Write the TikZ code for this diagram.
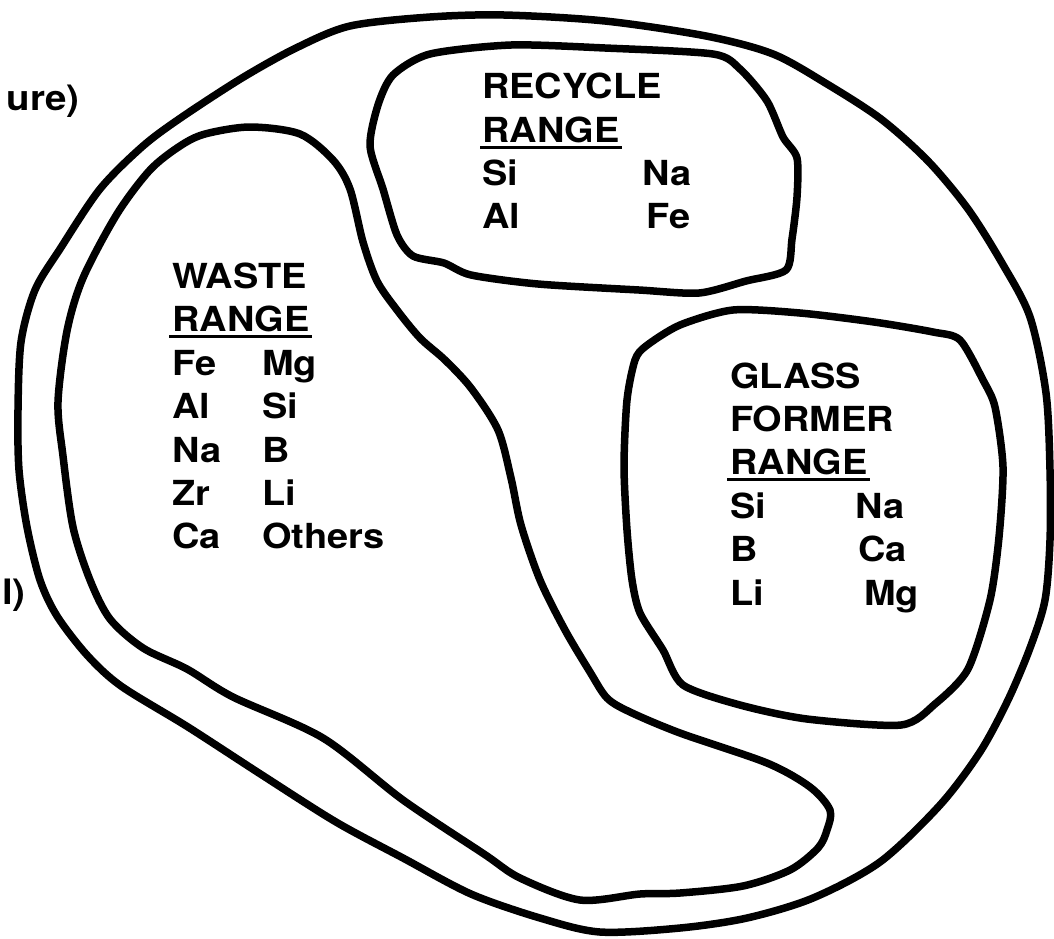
\documentclass[tikz,border=0pt]{standalone}
\usepackage{fontspec}
\newfontfamily\lblfont{TeX Gyre Heros}[FakeStretch=1.1]
\begin{document}
\begin{tikzpicture}[x=1pt,y=-1pt,
  blob/.style={line width=7.5pt, line join=round, draw=black},
  lbl/.style={anchor=base west, inner sep=0pt, font=\lblfont\bfseries\fontsize{34.5}{40}\selectfont},
  lblr/.style={anchor=base east, inner sep=0pt, font=\lblfont\bfseries\fontsize{35}{40}\selectfont},
  uline/.style={line width=3pt}]
\useasboundingbox (0,0) rectangle (1054,938);
% outer region
\draw[blob] plot[smooth cycle, tension=0.5] coordinates {
 (296,48) (350,26) (430,17) (504,15) (605,21) (706,36) (773,54) (827,84)
 (881,119) (928,161) (968,209) (1002,263) (1030,317) (1046,393) (1050,470)
 (1050,540) (1045,600) (1030,648) (1008,700) (980,752) (940,805) (880,862)
 (813,898) (747,918) (680,928) (600,932) (540,918) (471,894) (403,858)
 (336,822) (262,775) (188,727) (121,686) (87,655) (57,616) (40,580)
 (27,527) (19,470) (18,410) (21,342) (35,290) (60,249) (100,189) (143,146) (182,117) (242,78)};
% waste range
\draw[blob] plot[smooth cycle, tension=0.5] coordinates {
 (205,134) (250,127) (300,134) (333,160) (350,189) (363,242) (377,281)
 (397,310) (420,338) (445,360) (471,388) (498,430) (511,478)
 (521,525) (540,580) (565,630) (590,672) (607,698) (630,712) (680,733)
 (767,763) (810,787) (830,810) (827,830) (818,848) (790,870) (743,886)
 (680,893) (640,894) (580,900) (520,878) (484,854) (403,800) (323,738)
 (233,697) (187,669) (143,648) (110,619) (90,580) (73,527) (63,456)
 (58,402) (67,331) (83,278) (117,214) (150,170) (180,146)};
% recycle range
\draw[blob] plot[smooth cycle, tension=0.45] coordinates {
 (393,75) (430,54) (511,45) (605,48) (713,54) (740,69) (767,101) (783,137)
 (797,158) (797,197) (792,239) (786,270) (746,281) (699,293) (639,290)
 (538,284) (471,275) (444,263) (413,256) (397,235) (383,189) (370,146) (378,105)};
% glass former range
\draw[blob] plot[smooth cycle, tension=0.45] coordinates {
 (646,346) (680,325) (733,310) (800,313) (874,322) (933,332) (960,340)
 (983,380) (995,407) (1003,467) (999,537) (990,600) (968,669) (935,704)
 (901,725) (807,719) (740,705) (683,685) (663,650) (640,613) (632,580)
 (627,530) (624,466) (627,400) (635,360)};
% labels at the left edge
\node[lblr] (e1) at (80,110) {ure)};
\node[lblr] (e2) at (26,604) {l)};
% waste text
\node[lbl] (w1) at (172,288) {WASTE};
\node[lbl] (w2) at (172,331) {RANGE};
\draw[uline] ([shift={(-3,5)}]w2.base west) -- ([shift={(2,5)}]w2.base east);
\node[lbl] (w3a) at (172,375) {Fe};  \node[lbl] (w3b) at (262,375) {Mg};
\node[lbl] (w4a) at (172,418) {Al};  \node[lbl] (w4b) at (262,418) {Si};
\node[lbl] (w5a) at (172,462) {Na};  \node[lbl] (w5b) at (262,462) {B};
\node[lbl] (w6a) at (172,505) {Zr};  \node[lbl] (w6b) at (262,505) {Li};
\node[lbl] (w7a) at (172,548) {Ca};  \node[lbl] (w7b) at (262,548) {Others};
% recycle text
\node[lbl] (r1) at (482,98) {RECYCLE};
\node[lbl] (r2) at (482,142) {RANGE};
\draw[uline] ([shift={(-2,5)}]r2.base west) -- ([shift={(2,5)}]r2.base east);
\node[lbl] (r3a) at (482,185) {Si};  \node[lbl] (r3b) at (642,185) {Na};
\node[lbl] (r4a) at (482,228) {Al};  \node[lbl] (r4b) at (646,228) {Fe};
% glass text
\node[lbl] (g1) at (730,388) {GLASS};
\node[lbl] (g2) at (730,431) {FORMER};
\node[lbl] (g3) at (730,474) {RANGE};
\draw[uline] ([shift={(-3,5)}]g3.base west) -- ([shift={(2,5)}]g3.base east);
\node[lbl] (g4a) at (730,518) {Si};  \node[lbl] (g4b) at (855,518) {Na};
\node[lbl] (g5a) at (730,561) {B};   \node[lbl] (g5b) at (858,561) {Ca};
\node[lbl] (g6a) at (730,605) {Li};  \node[lbl] (g6b) at (864,605) {Mg};
\end{tikzpicture}
\end{document}
